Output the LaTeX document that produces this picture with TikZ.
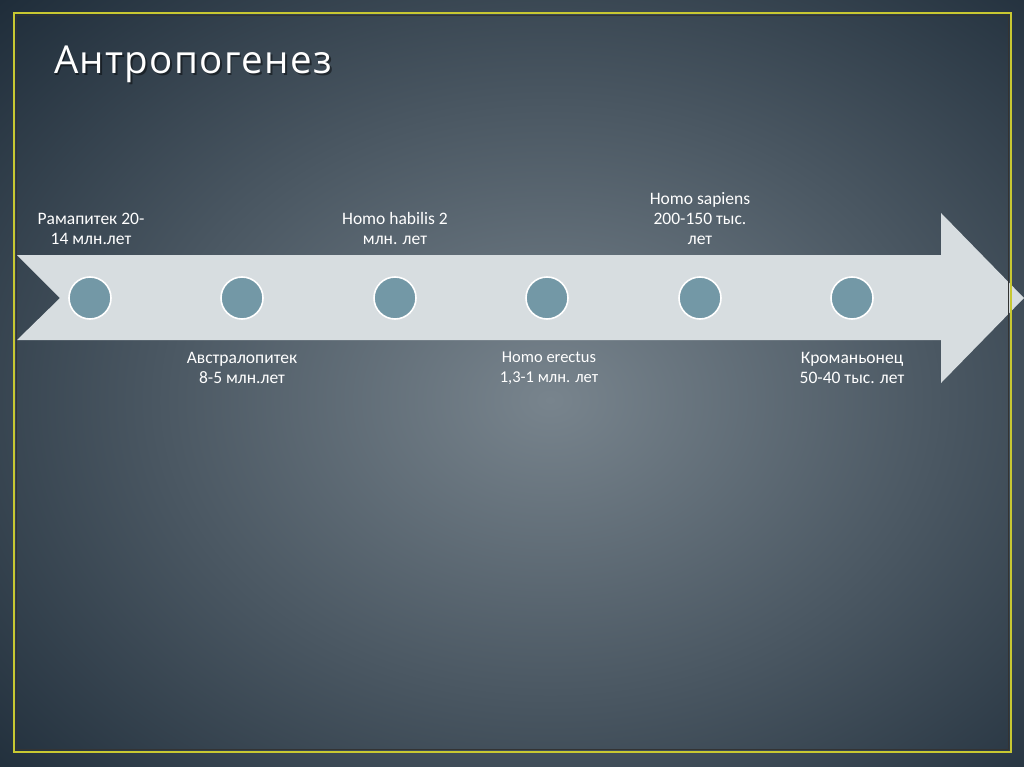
\documentclass[tikz,border=0pt]{standalone}
\usepackage{fontspec}
\setmainfont{Carlito}
\newfontfamily\titlefont[LetterSpace=3.5]{Open Sans}
\usetikzlibrary{positioning}

\definecolor{bgdark}{HTML}{1D2B38}
\definecolor{bglight}{HTML}{78848D}
\definecolor{frameyellow}{HTML}{C8C832}
\definecolor{bandgray}{HTML}{D7DDE0}
\definecolor{dotblue}{HTML}{7398A6}

\tikzset{
	dot/.style={circle,fill=dotblue,draw=white,line width=1.6pt,minimum size=42pt,inner sep=0pt},
	era/.style={text=white,align=center,inner sep=0pt,font=\fontsize{17.5}{20}\selectfont},
	titletext/.style={anchor=base west,inner sep=0pt,font=\titlefont\fontsize{38.5}{38}\selectfont}
}

\begin{document}
\begin{tikzpicture}[x=1pt,y=-1pt]
	\useasboundingbox (0,0) rectangle (1024,767);
	% background
	\fill[bgdark] (0,0) rectangle (1024,767);
	\shade[inner color=bglight,outer color=bgdark] (-230,-190) rectangle (1330,990);
	
	% title
	\node[titletext,text=black,opacity=.45] at (55.5,75.5) {Антропогенез};
	\node[titletext,text=white] (title) at (54,74) {Антропогенез};
	
	% time arrow
	\fill[bandgray] (17,255) -- (941,255) -- (941,213) -- (1024,298) -- (941,383) -- (941,340) -- (17,340) -- (60,298) -- cycle;
	
	% frame
	\draw[black!80,line width=1pt] (16.5,15.5) rectangle (1008.5,749.5);
	\draw[frameyellow,line width=2.2pt] (14,13) rectangle (1011,752);
	
	% dots
	\foreach \i/\x in {1/90,2/242,3/395,4/547,5/700,6/852}
		\node[dot] (c\i) at (\x,298) {};
	
	% labels
	\node[era,anchor=south] (ramapitek) at (91,245) {Рамапитек 20-\\14 млн.лет};
	\node[era,anchor=north] (australopitek) at (242,352) {Австралопитек\\8-5 млн.лет};
	\node[era,anchor=south] (habilis) at (395,245) {Homo habilis 2\\млн. лет};
	\node[era,anchor=north,font=\fontsize{16.5}{20}\selectfont] (erectus) at (549,352) {Homo erectus\\1,3-1 млн. лет};
	\node[era,anchor=south] (sapiens) at (700,245) {Homo sapiens\\200-150 тыс.\\лет};
	\node[era,anchor=north] (kromanon) at (852,352) {Кроманьонец\\50-40 тыс. лет};
\end{tikzpicture}
\end{document}
